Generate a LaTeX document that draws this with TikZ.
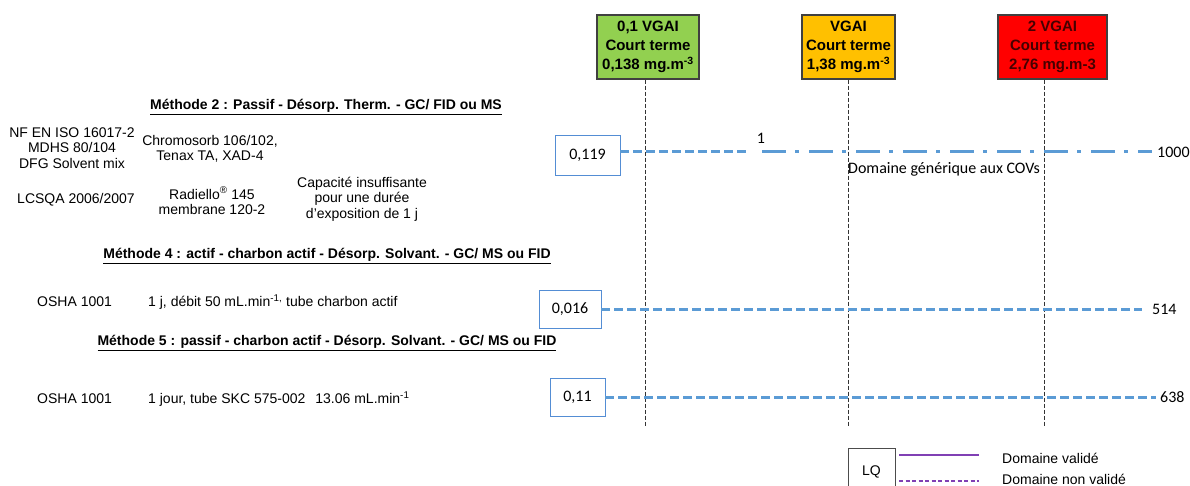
\documentclass[tikz,border=0pt]{standalone}
\usepackage{fontspec}
\setmainfont{Liberation Sans}
\newfontfamily\calib{Carlito}
\definecolor{lblue}{RGB}{91,155,213}
\definecolor{bordblue}{RGB}{84,141,212}
\definecolor{vgreen}{RGB}{146,208,80}
\definecolor{vyellow}{RGB}{255,192,0}
\definecolor{vred}{RGB}{255,0,0}
\definecolor{dred}{RGB}{70,0,0}
\definecolor{purp}{RGB}{128,64,180}
\begin{document}
\begin{tikzpicture}[x=1pt,y=-1pt,
  vbox/.style={draw=black!75, line width=1.2pt, minimum height=64pt, inner sep=0pt, align=center, font=\fontsize{15}{19}\selectfont\bfseries},
  lqbox/.style={draw=bordblue, line width=0.9pt, inner sep=0pt, font=\calib\fontsize{16}{18}\selectfont},
  txt/.style={align=center, font=\fontsize{14}{15.5}\selectfont, inner sep=0pt},
  head/.style={font=\fontsize{14}{16}\selectfont\bfseries, inner sep=0pt},
  caltxt/.style={font=\calib\fontsize{16}{18}\selectfont, inner sep=0pt},
  legtxt/.style={font=\fontsize{14}{15}\selectfont, inner sep=0pt, anchor=west},
  vline/.style={draw=black!80, line width=0.8pt, dash pattern=on 4pt off 2pt},
  bdash/.style={draw=lblue, line width=3pt, dash pattern=on 9pt off 4pt},
  bdashdot/.style={draw=lblue, line width=3pt, dash pattern=on 24pt off 9pt on 4pt off 10pt},
  purpsolid/.style={draw=purp, line width=1.5pt},
  purpdash/.style={draw=purp, line width=1.5pt, dash pattern=on 4pt off 2.5pt}]
\useasboundingbox (0,0) rectangle (1190,486);
\fill[white] (0,0) rectangle (1190,486);

% top reference boxes
\node[vbox, fill=vgreen, minimum width=102pt] (g) at (648,47) {0,1 VGAI\\Court terme\\0,138 mg.m\textsuperscript{-3}};
\node[vbox, fill=vyellow, minimum width=93pt] (yv) at (848.5,47) {VGAI\\Court terme\\1,38 mg.m\textsuperscript{-3}};
\node[vbox, fill=vred, minimum width=109pt, text=dred] (r) at (1052.5,47) {\rule{0pt}{6pt}2 VGAI\\Court terme\\2,76 mg.m-3};

\coordinate (gb) at (645,426);
\coordinate (yb) at (848,426);
\coordinate (rb) at (1044,426);
\draw[vline] (g.south -| gb) -- (gb);
\draw[vline] (yv.south -| yb) -- (yb);
\draw[vline] (r.south -| rb) -- (rb);

% Methode 2
\node[head] (h2) at (326,107) {\underline{Méthode 2 : Passif - Désorp. Therm. - GC/ FID ou MS}};
\node[txt] (nf) at (72,148) {NF EN ISO 16017-2\\MDHS 80/104\\DFG Solvent mix};
\node[txt] (chr) at (210,149) {Chromosorb 106/102,\\Tenax TA, XAD-4};
\node[txt] (lcs) at (76,200) {LCSQA 2006/2007};
\node[txt] (rad) at (212,201) {Radiello\textsuperscript{®} 145\\membrane 120-2};
\node[txt] (cap) at (362,199) {Capacité insuffisante\\pour une durée\\d'exposition de 1 j};

\node[lqbox, minimum width=65pt, minimum height=40pt] (b1) at (587.5,155) {0,119};
\node[caltxt, anchor=west] (n1000) at (1157,152) {1000};
\coordinate (m1) at (748,152);
\coordinate (m2) at (762,152);
\draw[bdash] (b1.east |- m1) -- (m1);
\draw[bdashdot] (m2) -- ([xshift=-5pt]n1000.west);
\node[caltxt] (one) at (761,138) {1};
\node[caltxt, anchor=west] (dom) at (848,169) {Domaine générique aux COVs};

% Methode 4
\node[head] (h4) at (327,256) {\underline{Méthode 4 : actif - charbon actif - Désorp. Solvant. - GC/ MS ou FID}};
\node[txt, anchor=west] (o4) at (37,302) {OSHA 1001};
\node[txt, anchor=west] (d4) at (148,302) {1 j, débit 50 mL.min\textsuperscript{-1,} tube charbon actif};
\node[lqbox, minimum width=62pt, minimum height=38pt] (b4) at (570,309) {0,016};
\node[caltxt, anchor=west] (n514) at (1152,309) {514};
\draw[bdash] (b4.east) -- ([xshift=-10pt]n514.west);

% Methode 5
\node[head] (h5) at (327,343) {\underline{Méthode 5 : passif - charbon actif - Désorp. Solvant. - GC/ MS ou FID}};
\node[txt, anchor=west] (o5) at (37,399) {OSHA 1001};
\node[txt, anchor=west] (d5) at (148,399) {1 jour, tube SKC 575-002\hspace{10pt}13.06 mL.min\textsuperscript{-1}};
\node[lqbox, minimum width=55pt, minimum height=38pt] (b5) at (577.5,397) {0,11};
\node[caltxt, anchor=west] (n638) at (1160,397) {638};
\draw[bdash] (b5.east) -- ([xshift=-4pt]n638.west);

% legend
\node[draw=black!70, line width=0.8pt, minimum width=47pt, minimum height=48pt, inner sep=0pt, font=\fontsize{14}{15}\selectfont] (lq) at (871.5,472) {LQ};
\coordinate (ls1) at (899,455);
\coordinate (le1) at (979,455);
\coordinate (ls2) at (899,481);
\coordinate (le2) at (979,481);
\draw[purpsolid] (ls1) -- (le1);
\draw[purpdash] (ls2) -- (le2);
\node[legtxt] (lv) at (1002,458) {Domaine validé};
\node[legtxt] (lnv) at (1002,479) {Domaine non validé};
\end{tikzpicture}
\end{document}
